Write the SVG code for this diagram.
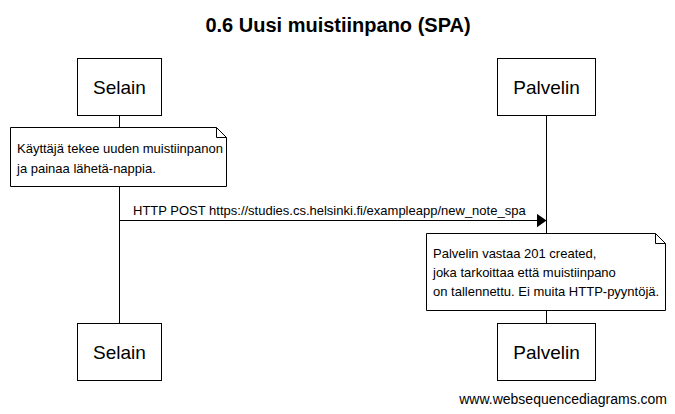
<svg xmlns="http://www.w3.org/2000/svg" width="675" height="414" viewBox="0 0 675 414">
<style>
  .box { fill: #ffffff; stroke: #000000; stroke-width: 1; }
  .life { stroke: #000000; stroke-width: 1; fill: none; }
  .note { fill: #ffffff; stroke: #000000; stroke-width: 1; }
  .fold { fill: none; stroke: #000000; stroke-width: 1; }
  .actor { font-family: "Liberation Sans", Arial, sans-serif; font-size: 19px; fill: #000; text-anchor: middle; }
  .txt { font-family: "Liberation Sans", Arial, sans-serif; font-size: 13px; fill: #000; }
  .title { font-family: "Liberation Sans", Arial, sans-serif; font-size: 20px; font-weight: bold; fill: #000; text-anchor: middle; }
</style>
<defs>
  <marker id="arrow" markerWidth="10" markerHeight="14" refX="10" refY="7" orient="auto" markerUnits="userSpaceOnUse">
    <path d="M0,0 L10,7 L0,14 Z" fill="#000"/>
  </marker>
</defs>
<rect width="675" height="414" fill="#ffffff"/>
<text class="title" x="338" y="32">0.6 Uusi muistiinpano (SPA)</text>

<g id="lifelines">
  <line class="life" x1="119.5" y1="115.5" x2="119.5" y2="323.5"/>
  <line class="life" x1="546.5" y1="115.5" x2="546.5" y2="323.5"/>
</g>

<g id="connectors">
  <line class="life" x1="119.5" y1="220.5" x2="546.5" y2="220.5" marker-end="url(#arrow)"/>
  <text class="txt" x="133" y="215">HTTP POST https://studies.cs.helsinki.fi/exampleapp/new_note_spa</text>
</g>

<g id="selain-top">
  <rect class="box" x="77.5" y="58.5" width="84" height="57"/>
  <text class="actor" x="119.5" y="94">Selain</text>
</g>
<g id="palvelin-top">
  <rect class="box" x="497.5" y="58.5" width="98" height="57"/>
  <text class="actor" x="546.5" y="94">Palvelin</text>
</g>

<g id="note1">
  <path class="note" d="M10.5,127.5 H216.5 L226.5,137.5 V186.5 H10.5 Z"/>
  <path class="fold" d="M216.5,127.5 V137.5 H226.5"/>
  <text class="txt" x="17" y="153">Käyttäjä tekee uuden muistiinpanon</text>
  <text class="txt" x="17" y="173">ja painaa lähetä-nappia.</text>
</g>

<g id="note2">
  <path class="note" d="M426.5,233.5 H655.5 L665.5,243.5 V310.5 H426.5 Z"/>
  <path class="fold" d="M655.5,233.5 V243.5 H665.5"/>
  <text class="txt" x="433" y="258">Palvelin vastaa 201 created,</text>
  <text class="txt" x="433" y="277">joka tarkoittaa että muistiinpano</text>
  <text class="txt" x="433" y="296">on tallennettu. Ei muita HTTP-pyyntöjä.</text>
</g>

<g id="selain-bottom">
  <rect class="box" x="77.5" y="323.5" width="84" height="57"/>
  <text class="actor" x="119.5" y="359">Selain</text>
</g>
<g id="palvelin-bottom">
  <rect class="box" x="497.5" y="323.5" width="98" height="57"/>
  <text class="actor" x="546.5" y="359">Palvelin</text>
</g>

<text class="txt" x="667" y="404" style="font-size:14px" text-anchor="end">www.websequencediagrams.com</text>
</svg>
